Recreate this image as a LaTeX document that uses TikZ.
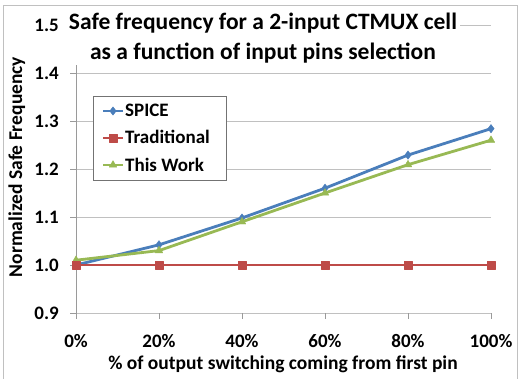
\documentclass[tikz,border=0pt]{standalone}
\usepackage{fontspec}
\setmainfont{Carlito}
\usetikzlibrary{plotmarks}
\definecolor{spiceblue}{HTML}{4A7EBB}
\definecolor{tradred}{HTML}{BE4B48}
\definecolor{workgreen}{HTML}{98B954}
\definecolor{gridgray}{HTML}{C0C0C0}
\tikzset{
  ticklabel/.style={font=\fontsize{19}{22}\selectfont\bfseries, inner sep=0pt},
  axislabel/.style={font=\fontsize{19.5}{23}\selectfont\bfseries, inner sep=0pt},
  series/.style={line width=2.8pt, line join=round},
  spiceline/.style={series, spiceblue, mark=diamond*, mark size=4.2pt, mark options={solid, line width=0.4pt}},
  tradline/.style={series, tradred, mark=square*, mark size=4pt, mark options={solid, line width=0.4pt}},
  workline/.style={series, workgreen, mark=triangle*, mark size=4.4pt, mark options={solid, line width=0.4pt}},
}

\begin{document}
\begin{tikzpicture}[x=1pt, y=-1pt]
  \useasboundingbox (0,0) rectangle (519,379);
  \begin{scope}
    \clip (0,0) rectangle (519,379);
    \draw[gridgray, line width=0.8pt] (3,5) rectangle (517,385); % chart frame
  \end{scope}

  % plot area: 0% .. 100% across, 0.9 .. 1.5 up
  \begin{scope}[shift={(76,265)}, x=4.15pt, y=480pt]
    \foreach \v in {0.1,0.2,0.3,0.4,0.5}
      \draw[gridgray, line width=0.8pt] (0,\v) -- (100,\v);
    \draw[gridgray, line width=0.8pt] (0,0) -- (100,0);
    \draw[gridgray, line width=0.8pt] (0,-0.1) -- (100,-0.1);  % x axis
    \draw[gridgray!80!black, line width=0.6pt] (0,-0.1) -- (0,0.5);  % y axis
    \foreach \v in {-0.1,0,0.1,0.2,0.3,0.4,0.5}
      \draw[gridgray!80!black, line width=0.6pt] (0,\v) -- ++(-6pt,0);
    \foreach \p in {0,20,...,100}
      \draw[gridgray!80!black, line width=0.6pt] (\p,-0.1) -- ++(0,-6pt);

    % tick labels
    \foreach \v/\t in {-0.1/0.9,0/1.0,0.1/1.1,0.2/1.2,0.3/1.3,0.4/1.4,0.5/1.5}
      \node[ticklabel, anchor=east] (ylab\t) at ([xshift=-17pt]0,\v) {\t};
    \foreach \p in {0,20,...,100}
      \node[ticklabel] (xlab\p) at ([yshift=-76pt]\p,0) {\p\%};

    % data
    \draw[spiceline] plot coordinates {(0,0) (20,0.042) (40,0.098) (60,0.16) (80,0.229) (100,0.284)};
    \draw[workline] plot coordinates {(0,0.01) (20,0.03) (40,0.09) (60,0.15) (80,0.209) (100,0.26)};
    \draw[tradline] plot coordinates {(0,0) (20,0) (40,0) (60,0) (80,0) (100,0)};
  \end{scope}

  % axis titles
  \node[axislabel, anchor=base] (xtitle) at (283,369) {\% of output switching coming from first pin};
  \node[axislabel, rotate=90, anchor=base] (ytitle) at (22,167) {Normalized Safe Frequency};

  % chart title over the top gridline
  \node[fill=white, inner xsep=3pt, inner ysep=2pt, align=center,
        font=\fontsize{23.5}{30}\selectfont\bfseries] (title) at (263,38)
        {Safe frequency for a 2-input CTMUX cell\\as a function of input pins selection};

  % legend
  \node[draw=gridgray!60!black, fill=white, line width=0.6pt, minimum width=133pt, minimum height=84pt,
        inner sep=0pt] (legend) at (159.5,138) {};
  \draw[spiceline, mark=none] (103,111) -- (123,111);
  \draw[spiceline] plot coordinates {(113,111)};
  \node[ticklabel, anchor=base west] (legspice) at (125,117) {SPICE};
  \draw[tradline, mark=none] (103,138) -- (123,138);
  \draw[tradline] plot coordinates {(113,138)};
  \node[ticklabel, anchor=base west] (legtrad) at (125,144) {Traditional};
  \draw[workline, mark=none] (103,165) -- (123,165);
  \draw[workline] plot coordinates {(113,165)};
  \node[ticklabel, anchor=base west] (legwork) at (125,172) {This Work};
\end{tikzpicture}
\end{document}
